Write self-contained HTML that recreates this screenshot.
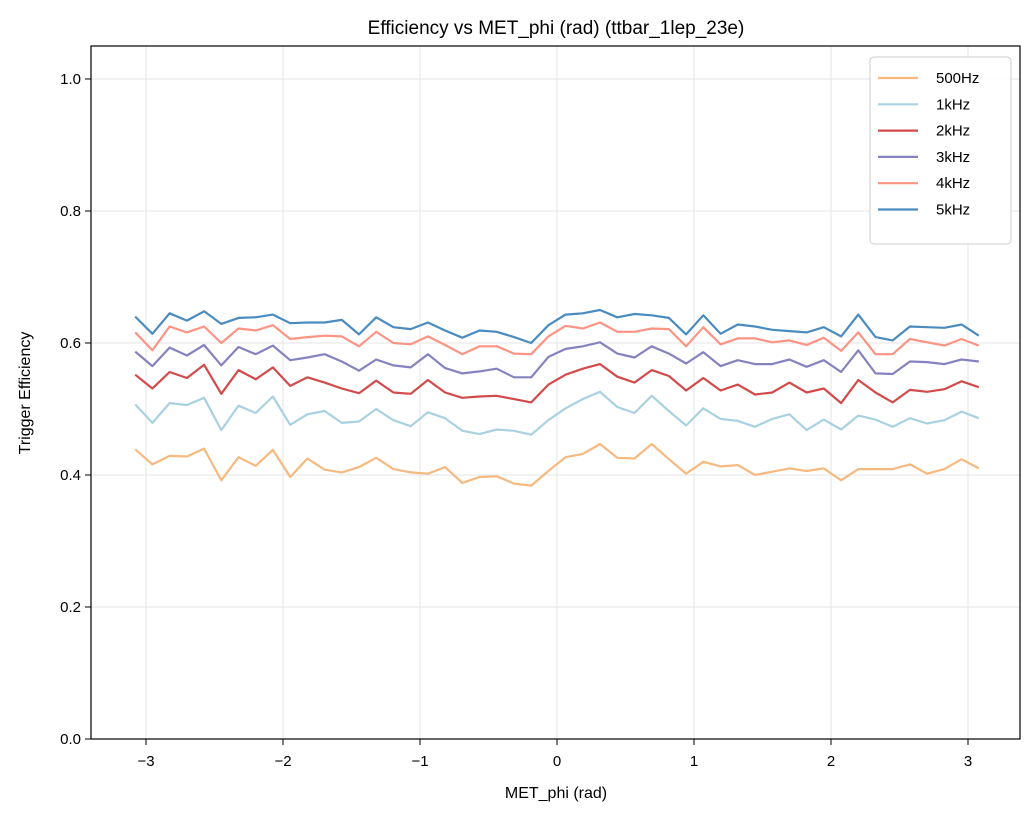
<!DOCTYPE html>
<html><head><meta charset="utf-8"><style>
body{margin:0;background:#fff}
svg{display:block;font-family:"Liberation Sans","DejaVu Sans",sans-serif}
</style></head><body>
<svg id="chart" width="1036" height="818" xmlns="http://www.w3.org/2000/svg">
<rect width="1036" height="818" fill="#fff"/>
<text x="556" y="34" text-anchor="middle" font-size="19">Efficiency vs MET_phi (rad) (ttbar_1lep_23e)</text>
<g id="grid"></g><g id="series"></g><g id="axes"></g>
<rect x="91" y="46" width="929" height="693" fill="none" stroke="#000" stroke-width="1.2"/>
<text x="556" y="798" text-anchor="middle" font-size="16">MET_phi (rad)</text>
<text transform="translate(30,393) rotate(-90)" text-anchor="middle" font-size="16">Trigger Efficiency</text>
<g id="legend"></g>
</svg>
<script>
const seriesNames=["500Hz","1kHz","2kHz","3kHz","4kHz","5kHz"];
const seriesColors=["#f6b97f","#a9d1e2","#d34a4a","#8583bf","#fc9484","#4a8cc0"];
const xTicks=[-3,-2,-1,0,1,2,3];
const xTickLabels=["\u22123","\u22122","\u22121","0","1","2","3"];
const yTicks=[0,0.2,0.4,0.6,0.8,1.0];
const yTickLabels=["0.0","0.2","0.4","0.6","0.8","1.0"];
const s500=[0.439,0.416,0.429,0.428,0.440,0.392,0.427,0.414,0.438,0.397,0.425,0.408,0.404,0.412,0.426,0.409,0.404,0.402,0.412,0.388,0.397,0.398,0.387,0.384,0.406,0.427,0.432,0.447,0.426,0.425,0.447,0.424,0.402,0.420,0.413,0.415,0.400,0.405,0.410,0.406,0.410,0.392,0.409,0.409,0.409,0.416,0.402,0.409,0.424,0.410];
const s1k=[0.507,0.479,0.509,0.506,0.517,0.468,0.505,0.494,0.519,0.476,0.492,0.497,0.479,0.481,0.500,0.483,0.474,0.495,0.486,0.467,0.462,0.469,0.467,0.461,0.483,0.501,0.515,0.526,0.503,0.494,0.520,0.497,0.475,0.501,0.485,0.482,0.473,0.485,0.492,0.468,0.484,0.469,0.490,0.484,0.473,0.486,0.478,0.483,0.496,0.486];
const s2k=[0.552,0.531,0.556,0.547,0.567,0.523,0.559,0.545,0.563,0.535,0.548,0.540,0.531,0.524,0.543,0.525,0.523,0.544,0.525,0.517,0.519,0.520,0.515,0.510,0.537,0.552,0.561,0.568,0.549,0.540,0.559,0.550,0.528,0.547,0.528,0.537,0.522,0.525,0.540,0.525,0.531,0.509,0.544,0.525,0.510,0.529,0.526,0.530,0.542,0.533];
const s3k=[0.587,0.565,0.593,0.581,0.597,0.566,0.594,0.583,0.596,0.574,0.578,0.583,0.572,0.558,0.575,0.566,0.563,0.583,0.562,0.554,0.557,0.561,0.548,0.548,0.579,0.591,0.595,0.601,0.584,0.578,0.595,0.584,0.569,0.586,0.565,0.574,0.568,0.568,0.575,0.564,0.574,0.556,0.589,0.554,0.553,0.572,0.571,0.568,0.575,0.572];
const s4k=[0.616,0.589,0.625,0.616,0.625,0.600,0.622,0.619,0.627,0.606,0.609,0.611,0.610,0.595,0.617,0.600,0.598,0.610,0.597,0.583,0.595,0.595,0.584,0.583,0.610,0.626,0.622,0.631,0.617,0.617,0.622,0.621,0.595,0.624,0.598,0.607,0.607,0.601,0.604,0.597,0.608,0.588,0.616,0.583,0.583,0.606,0.601,0.596,0.606,0.596];
const s5k=[0.640,0.614,0.645,0.634,0.648,0.629,0.638,0.639,0.643,0.630,0.631,0.631,0.635,0.613,0.639,0.624,0.621,0.631,0.619,0.608,0.619,0.617,0.609,0.600,0.627,0.643,0.645,0.650,0.639,0.644,0.642,0.638,0.613,0.642,0.614,0.628,0.625,0.620,0.618,0.616,0.624,0.610,0.643,0.609,0.604,0.625,0.624,0.623,0.628,0.611];
const allSeries=[s500,s1k,s2k,s3k,s4k,s5k];
const NS="http://www.w3.org/2000/svg";
const X0=557,XS=137,Y0=739,YS=660;
function xPos(v){return X0+v*XS;}
function yPos(v){return Y0-v*YS;}
function binCenter(i,n){return -Math.PI+(i+0.5)*2*Math.PI/n;}
function mk(tag,attrs,parent){const e=document.createElementNS(NS,tag);for(const k in attrs)e.setAttribute(k,attrs[k]);parent.appendChild(e);return e;}
const grid=document.getElementById('grid'),axes=document.getElementById('axes'),ser=document.getElementById('series'),leg=document.getElementById('legend');
xTicks.forEach((t,i)=>{const x=xPos(t);
 const g=mk('line',{x1:x,x2:x,y1:46,y2:739,stroke:'#e6e6e6','stroke-width':1},grid);
 
 
 const tk=mk('line',{x1:x,x2:x,y1:739,y2:745,stroke:'#000','stroke-width':1},axes);
 
 
 const tx=mk('text',{x:x,y:766,'text-anchor':'middle','font-size':15},axes);tx.textContent=xTickLabels[i];
 
 
});
yTicks.forEach((t,i)=>{const y=yPos(t);
 const g=mk('line',{x1:91,x2:1020,y1:y,y2:y,stroke:'#e6e6e6','stroke-width':1},grid);
 
 
 const tk=mk('line',{x1:85,x2:91,y1:y,y2:y,stroke:'#000','stroke-width':1},axes);
 
 
 const tx=mk('text',{x:81,y:y+5,'text-anchor':'end','font-size':15},axes);tx.textContent=yTickLabels[i];
 
 
});
allSeries.forEach((vals,si)=>{
 const pts=vals.map((v,i)=>xPos(binCenter(i,vals.length)).toFixed(1)+','+yPos(v).toFixed(1)).join(' ');
 const pl=mk('polyline',{points:pts,fill:'none',stroke:seriesColors[si],'stroke-width':2.2,'stroke-linejoin':'round'},ser);
 
 
});
const lb=mk('rect',{x:870,y:57,width:141,height:187,rx:4,fill:'#fff','fill-opacity':0.85,stroke:'#ccc'},leg);


seriesNames.forEach((n,i)=>{const y=78+i*26.3;
 const l=mk('line',{x1:878,x2:918,y1:y,y2:y,stroke:seriesColors[i],'stroke-width':2.2},leg);
 
 
 const t=mk('text',{x:936,y:y+5,'font-size':15},leg);t.textContent=n;
 
 
});
</script>
</body></html>
